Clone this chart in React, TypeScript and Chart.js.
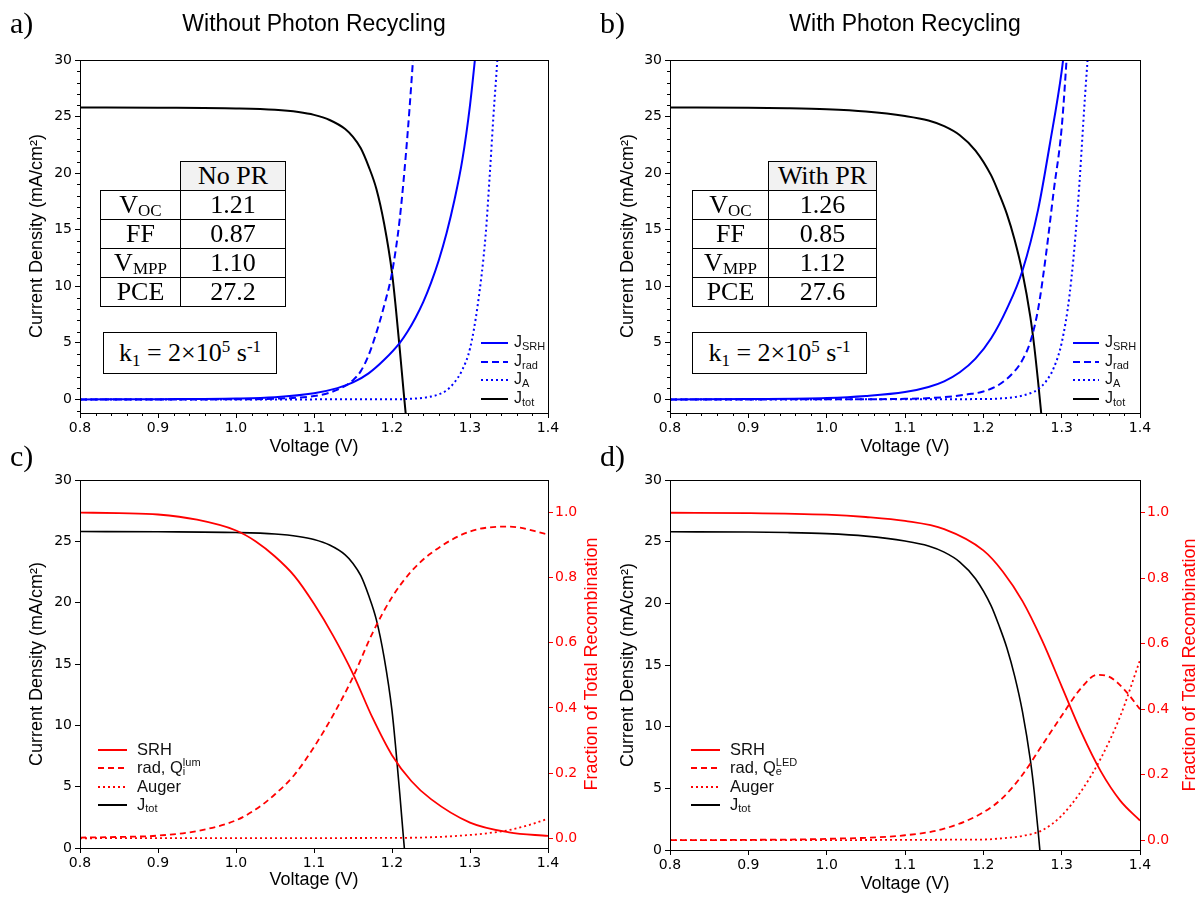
import React, { useEffect, useRef } from 'react';
import { Chart, registerables } from 'chart.js';
Chart.register(...registerables);

// ---------------- data ----------------
// No photon recycling: total current (panels a & c)
const V_TOT_NOPR = [0.80, 0.90, 1.00, 1.05, 1.08, 1.10, 1.12, 1.14, 1.15, 1.16, 1.17, 1.18, 1.19, 1.20, 1.205, 1.21, 1.215, 1.22];
const J_TOT_NOPR = [25.8, 25.78, 25.72, 25.6, 25.4, 25.15, 24.7, 23.9, 23.2, 22.2, 20.6, 18.6, 15.5, 11.2, 8.0, 4.4, 0.6, -3.0];
// With photon recycling: total current (panels b & d)
const V_TOT_PR = [0.80, 0.90, 0.95, 1.00, 1.05, 1.10, 1.13, 1.15, 1.17, 1.19, 1.21, 1.22, 1.23, 1.24, 1.25, 1.26, 1.265, 1.27, 1.275];
const J_TOT_PR = [25.8, 25.78, 25.74, 25.65, 25.45, 25.05, 24.65, 24.15, 23.35, 22.0, 19.8, 18.2, 16.4, 14.1, 11.2, 7.3, 4.7, 1.5, -2.0];

// panel a components
const V_SRH_A = [0.80, 0.90, 1.00, 1.05, 1.10, 1.13, 1.15, 1.17, 1.19, 1.21, 1.22, 1.23, 1.24, 1.25, 1.26, 1.27, 1.28, 1.29, 1.30, 1.31];
const J_SRH_A = [0.0, 0.02, 0.08, 0.2, 0.55, 1.0, 1.5, 2.3, 3.5, 5.0, 6.0, 7.2, 8.6, 10.3, 12.3, 14.7, 17.6, 21.1, 26.0, 32.5];
const V_RAD_A = [0.80, 0.90, 1.00, 1.05, 1.10, 1.12, 1.14, 1.15, 1.16, 1.17, 1.18, 1.19, 1.20, 1.21, 1.22, 1.23];
const J_RAD_A = [0.0, 0.0, 0.01, 0.06, 0.3, 0.6, 1.2, 1.7, 2.5, 3.9, 5.9, 8.3, 11.2, 16.0, 23.5, 33.0];
const V_AUG_A = [0.80, 1.20, 1.22, 1.24, 1.25, 1.26, 1.27, 1.28, 1.29, 1.30, 1.31, 1.32, 1.325, 1.33, 1.335, 1.34];
const J_AUG_A = [0.0, 0.01, 0.04, 0.14, 0.25, 0.45, 0.8, 1.5, 2.6, 4.5, 8.4, 14.5, 19.5, 25.0, 30.0, 36.0];

// panel b components
const V_SRH_B = [0.80, 0.90, 1.00, 1.05, 1.10, 1.13, 1.15, 1.17, 1.19, 1.21, 1.23, 1.25, 1.27, 1.285, 1.30, 1.31];
const J_SRH_B = [0.0, 0.03, 0.12, 0.3, 0.65, 1.1, 1.6, 2.4, 3.6, 5.4, 8.0, 11.4, 16.8, 22.6, 29.0, 35.0];
const V_RAD_B = [0.80, 1.00, 1.10, 1.15, 1.18, 1.20, 1.22, 1.24, 1.25, 1.26, 1.27, 1.28, 1.29, 1.30, 1.31];
const J_RAD_B = [0.0, 0.01, 0.05, 0.2, 0.45, 0.7, 1.3, 2.5, 3.5, 5.1, 8.0, 12.8, 18.5, 24.0, 34.0];
const V_AUG_B = [0.80, 1.20, 1.22, 1.24, 1.26, 1.27, 1.28, 1.29, 1.30, 1.31, 1.32, 1.33, 1.335, 1.34];
const J_AUG_B = [0.0, 0.03, 0.08, 0.2, 0.55, 0.9, 1.6, 2.8, 5.0, 9.2, 16.5, 27.0, 32.0, 38.0];

// panel c fractions
const V_FRAC_C = [0.80, 0.85, 0.90, 0.95, 1.00, 1.025, 1.05, 1.075, 1.10, 1.125, 1.15, 1.175, 1.20, 1.225, 1.25, 1.30, 1.35, 1.40];
const F_SRH_C = [1.0, 0.998, 0.994, 0.978, 0.945, 0.912, 0.865, 0.805, 0.72, 0.62, 0.505, 0.37, 0.255, 0.175, 0.12, 0.048, 0.018, 0.007];
const F_RAD_C = [0.002, 0.004, 0.008, 0.022, 0.055, 0.088, 0.135, 0.195, 0.28, 0.38, 0.495, 0.63, 0.74, 0.82, 0.875, 0.942, 0.957, 0.933];
const V_AUG_C = [0.80, 1.20, 1.25, 1.30, 1.325, 1.35, 1.375, 1.40];
const F_AUG_C = [0.0, 0.001, 0.003, 0.01, 0.016, 0.025, 0.04, 0.06];

// panel d fractions
const V_SRH_D = [0.80, 0.90, 1.00, 1.05, 1.10, 1.15, 1.20, 1.225, 1.25, 1.275, 1.30, 1.325, 1.35, 1.375, 1.40];
const F_SRH_D = [1.0, 0.999, 0.994, 0.987, 0.975, 0.95, 0.885, 0.82, 0.73, 0.61, 0.47, 0.33, 0.21, 0.12, 0.06];
const V_RAD_D = [0.80, 0.90, 1.00, 1.10, 1.15, 1.20, 1.225, 1.25, 1.275, 1.30, 1.325, 1.345, 1.36, 1.38, 1.40];
const F_RAD_D = [0.0, 0.001, 0.004, 0.015, 0.035, 0.085, 0.13, 0.2, 0.29, 0.38, 0.465, 0.505, 0.5, 0.46, 0.4];
const V_AUG_D = [0.80, 1.20, 1.225, 1.25, 1.275, 1.30, 1.325, 1.35, 1.375, 1.40];
const F_AUG_D = [0.0, 0.002, 0.006, 0.013, 0.03, 0.075, 0.15, 0.25, 0.38, 0.55];

// ticks
const X_TICKS = [0.8, 0.9, 1.0, 1.1, 1.2, 1.3, 1.4];
const J_TICKS = [0, 5, 10, 15, 20, 25, 30];
const F_TICKS = [0.0, 0.2, 0.4, 0.6, 0.8, 1.0];

// tables
const TABLE_HEAD_A = 'No PR';
const TABLE_HEAD_B = 'With PR';
const TABLE_LABELS = [['V', 'OC'], ['FF', ''], ['V', 'MPP'], ['PCE', '']];
const TABLE_VALUES_A = ['1.21', '0.87', '1.10', '27.2'];
const TABLE_VALUES_B = ['1.26', '0.85', '1.12', '27.6'];

// ---------------- helpers ----------------
const BLUE = '#0000ff';
const RED = '#ff0000';
const SANS = '"Liberation Sans", Arial, sans-serif';
const SERIF = '"Liberation Serif", "Times New Roman", serif';
const TICKF = '"DejaVu Sans", sans-serif';

type Part = { t: string; size: number; dy?: number; stack?: boolean };

function richWidth(ctx: CanvasRenderingContext2D, parts: Part[], fam: string) {
  let w = 0, ps = 0, pw = 0;
  for (const p of parts) {
    ctx.font = `${p.size}px ${fam}`;
    const m = ctx.measureText(p.t).width;
    if (p.stack) { pw = Math.max(pw, m); w = ps + pw; }
    else { ps = w; pw = m; w += m; }
  }
  return w;
}

function drawRich(ctx: CanvasRenderingContext2D, parts: Part[], x: number, y: number, fam: string, color: string, align: 'left' | 'center') {
  const total = richWidth(ctx, parts, fam);
  let cx = align === 'center' ? x - total / 2 : x;
  let ps = cx, pw = 0;
  ctx.fillStyle = color;
  ctx.textBaseline = 'middle';
  ctx.textAlign = 'left';
  for (const p of parts) {
    ctx.font = `${p.size}px ${fam}`;
    const m = ctx.measureText(p.t).width;
    if (p.stack) {
      ctx.fillText(p.t, ps, y + (p.dy || 0));
      pw = Math.max(pw, m);
      cx = ps + pw;
    } else {
      ps = cx; pw = m;
      ctx.fillText(p.t, cx, y + (p.dy || 0));
      cx += m;
    }
  }
}

function drawRotated(ctx: CanvasRenderingContext2D, text: string, x: number, y: number, font: string, color: string) {
  ctx.save();
  ctx.translate(x, y);
  ctx.rotate(-Math.PI / 2);
  ctx.font = font;
  ctx.fillStyle = color;
  ctx.textAlign = 'center';
  ctx.textBaseline = 'middle';
  ctx.fillText(text, 0, 0);
  ctx.restore();
}

type LegendItem = { parts: Part[]; color: string; dash: number[]; lw: number };
type Series = { v: number[]; j: number[]; color: string; dash: number[]; lw: number; axis?: string };

type PanelCfg = {
  key: string;
  left: number; top: number; w: number; h: number;
  pad: { left: number; right: number; top: number; bottom: number };
  yMin: number; yMax: number;
  right: boolean;
  minor: boolean;
  series: Series[];
  letter: { t: string; x: number; y: number };
  title?: { t: string; x: number; y: number };
  yTitle: { x: number; y: number };
  y2Title?: { x: number; y: number };
  xTitle: { x: number; y: number };
  legend: { x0: number; x1: number; tx: number; ys: number[]; size: number; items: LegendItem[] };
};

const AX_FONT = `18px ${SANS}`;

function buildChart(canvas: HTMLCanvasElement, cfg: PanelCfg) {
  const datasets = cfg.series.map((s) => ({
    data: s.v.map((x, i) => ({ x, y: s.j[i] })),
    borderColor: s.color,
    borderWidth: s.lw,
    borderDash: s.dash,
    pointRadius: 0,
    fill: false,
    cubicInterpolationMode: 'monotone' as const,
    yAxisID: s.axis || 'y',
  }));

  const tickFont = { family: TICKF, size: 14 };
  const scales: any = {
    x: {
      type: 'linear', min: 0.8, max: 1.4,
      afterBuildTicks: (s: any) => { s.ticks = X_TICKS.map((v) => ({ value: v })); },
      afterFit: (s: any) => { s.height = 30; },
      grid: { display: true, drawOnChartArea: false, tickLength: 5, color: '#000', tickColor: '#000' },
      border: { display: false },
      ticks: { font: tickFont, color: '#000', padding: 2, maxRotation: 0, autoSkip: false, callback: (v: any) => Number(v).toFixed(1) },
    },
    y: {
      type: 'linear', min: cfg.yMin, max: 30,
      afterBuildTicks: (s: any) => { s.ticks = J_TICKS.map((v) => ({ value: v })); },
      afterFit: (s: any) => { s.width = 45; },
      grid: { display: true, drawOnChartArea: false, tickLength: 5, color: '#000', tickColor: '#000' },
      border: { display: false },
      ticks: { font: tickFont, color: '#000', padding: 3, autoSkip: false, callback: (v: any) => String(Math.round(Number(v))) },
    },
  };
  if (cfg.right) {
    scales.y2 = {
      type: 'linear', position: 'right', min: -0.03, max: 1.10,
      afterBuildTicks: (s: any) => { s.ticks = F_TICKS.map((v) => ({ value: v })); },
      afterFit: (s: any) => { s.width = 40; },
      grid: { display: true, drawOnChartArea: false, tickLength: 5, color: RED, tickColor: RED },
      border: { display: false },
      ticks: { font: tickFont, color: RED, padding: 2, autoSkip: false, callback: (v: any) => Number(v).toFixed(1) },
    };
  }

  const decor = {
    id: 'decor' + cfg.key,
    afterDraw(chart: any) {
      const ctx: CanvasRenderingContext2D = chart.ctx;
      const a = chart.chartArea;
      ctx.save();
      // minor ticks
      if (cfg.minor) {
        ctx.strokeStyle = '#000';
        ctx.lineWidth = 1;
        const xs = chart.scales.x;
        for (let k = 80; k <= 140; k += 2) {
          if (k % 10 === 0) continue;
          const px = Math.round(xs.getPixelForValue(k / 100)) + 0.5;
          ctx.beginPath(); ctx.moveTo(px, a.bottom); ctx.lineTo(px, a.bottom + 3); ctx.stroke();
        }
        const ys = chart.scales.y;
        for (let k = -1; k < 30; k++) {
          if (k % 5 === 0) continue;
          const py = Math.round(ys.getPixelForValue(k)) + 0.5;
          ctx.beginPath(); ctx.moveTo(a.left, py); ctx.lineTo(a.left - 3, py); ctx.stroke();
        }
      }
      // frame
      ctx.strokeStyle = '#000';
      ctx.lineWidth = 1;
      ctx.setLineDash([]);
      ctx.strokeRect(Math.round(a.left) + 0.5, Math.round(a.top) + 0.5, Math.round(a.right - a.left), Math.round(a.bottom - a.top));
      // legend
      const lg = cfg.legend;
      lg.items.forEach((it, i) => {
        const y = lg.ys[i];
        ctx.strokeStyle = it.color;
        ctx.lineWidth = it.lw;
        ctx.setLineDash(it.dash);
        ctx.beginPath(); ctx.moveTo(lg.x0, y); ctx.lineTo(lg.x1, y); ctx.stroke();
        ctx.setLineDash([]);
        drawRich(ctx, it.parts, lg.tx, y, SANS, '#111', 'left');
      });
      // titles
      ctx.font = `30px ${SERIF}`;
      ctx.fillStyle = '#000';
      ctx.textAlign = 'left';
      ctx.textBaseline = 'middle';
      ctx.fillText(cfg.letter.t, cfg.letter.x, cfg.letter.y);
      if (cfg.title) {
        ctx.font = `23px ${SANS}`;
        ctx.textAlign = 'center';
        ctx.fillText(cfg.title.t, cfg.title.x, cfg.title.y);
      }
      drawRotated(ctx, 'Current Density (mA/cm\u00b2)', cfg.yTitle.x, cfg.yTitle.y, AX_FONT, '#000');
      if (cfg.y2Title) drawRotated(ctx, 'Fraction of Total Recombination', cfg.y2Title.x, cfg.y2Title.y, AX_FONT, RED);
      ctx.font = AX_FONT;
      ctx.fillStyle = '#000';
      ctx.textAlign = 'center';
      ctx.textBaseline = 'middle';
      ctx.fillText('Voltage (V)', cfg.xTitle.x, cfg.xTitle.y);
      ctx.restore();
    },
  };

  return new Chart(canvas, {
    type: 'line',
    data: { datasets },
    options: {
      animation: false,
      responsive: false,
      devicePixelRatio: 1,
      layout: { padding: cfg.pad },
      plugins: { legend: { display: false }, tooltip: { enabled: false }, title: { display: false } },
      scales,
    } as any,
    plugins: [decor],
  });
}

function Panel({ cfg }: { cfg: PanelCfg }) {
  const ref = useRef<HTMLCanvasElement>(null);
  useEffect(() => {
    const chart = buildChart(ref.current!, cfg);
    return () => chart.destroy();
  }, []);
  return (
    <canvas ref={ref} width={cfg.w} height={cfg.h}
      style={{ position: 'absolute', left: cfg.left, top: cfg.top, width: cfg.w, height: cfg.h }} />
  );
}

const jLeg = (sub: string): Part[] => [{ t: 'J', size: 16 }, { t: sub, size: 11, dy: 4 }];
const blueLegend = (): LegendItem[] => [
  { parts: jLeg('SRH'), color: BLUE, dash: [], lw: 2 },
  { parts: jLeg('rad'), color: BLUE, dash: [7, 4], lw: 2 },
  { parts: jLeg('A'), color: BLUE, dash: [2, 3], lw: 2 },
  { parts: jLeg('tot'), color: '#000', dash: [], lw: 2 },
];
const redLegend = (sub: string, sup: string): LegendItem[] => [
  { parts: [{ t: 'SRH', size: 16.5 }], color: RED, dash: [], lw: 2 },
  { parts: [{ t: 'rad, Q', size: 16.5 }, { t: sub, size: 11, dy: 4 }, { t: sup, size: 11, dy: -5, stack: true }], color: RED, dash: [6, 4], lw: 2 },
  { parts: [{ t: 'Auger', size: 16.5 }], color: RED, dash: [2, 3], lw: 2 },
  { parts: [{ t: 'J', size: 16.5 }, { t: 'tot', size: 11, dy: 4 }], color: '#000', dash: [], lw: 2 },
];

const PANEL_A: PanelCfg = {
  key: 'a', left: 0, top: 0, w: 600, h: 460,
  pad: { left: 35, right: 52, top: 60, bottom: 17 },
  yMin: -1.2, yMax: 30, right: false, minor: true,
  series: [
    { v: V_SRH_A, j: J_SRH_A, color: BLUE, dash: [], lw: 2 },
    { v: V_RAD_A, j: J_RAD_A, color: BLUE, dash: [7, 4], lw: 2 },
    { v: V_AUG_A, j: J_AUG_A, color: BLUE, dash: [2, 3], lw: 2 },
    { v: V_TOT_NOPR, j: J_TOT_NOPR, color: '#000', dash: [], lw: 2 },
  ],
  letter: { t: 'a)', x: 10, y: 25 },
  title: { t: 'Without Photon Recycling', x: 314, y: 25 },
  yTitle: { x: 37, y: 236 },
  xTitle: { x: 314, y: 447 },
  legend: { x0: 481, x1: 508, tx: 514, ys: [343, 362, 380, 399], size: 16, items: blueLegend() },
};

const PANEL_B: PanelCfg = {
  key: 'b', left: 600, top: 0, w: 602, h: 460,
  pad: { left: 25, right: 62, top: 60, bottom: 17 },
  yMin: -1.2, yMax: 30, right: false, minor: true,
  series: [
    { v: V_SRH_B, j: J_SRH_B, color: BLUE, dash: [], lw: 2 },
    { v: V_RAD_B, j: J_RAD_B, color: BLUE, dash: [7, 4], lw: 2 },
    { v: V_AUG_B, j: J_AUG_B, color: BLUE, dash: [2, 3], lw: 2 },
    { v: V_TOT_PR, j: J_TOT_PR, color: '#000', dash: [], lw: 2 },
  ],
  letter: { t: 'b)', x: 0, y: 25 },
  title: { t: 'With Photon Recycling', x: 305, y: 25 },
  yTitle: { x: 28, y: 236 },
  xTitle: { x: 305, y: 447 },
  legend: { x0: 473, x1: 499, tx: 505, ys: [343, 362, 380, 399], size: 16, items: blueLegend() },
};

const PANEL_C: PanelCfg = {
  key: 'c', left: 0, top: 440, w: 600, h: 459,
  pad: { left: 35, right: 12, top: 40, bottom: 21 },
  yMin: 0, yMax: 30, right: true, minor: false,
  series: [
    { v: V_FRAC_C, j: F_SRH_C, color: RED, dash: [], lw: 1.8, axis: 'y2' },
    { v: V_FRAC_C, j: F_RAD_C, color: RED, dash: [6, 4], lw: 1.8, axis: 'y2' },
    { v: V_AUG_C, j: F_AUG_C, color: RED, dash: [2, 3], lw: 1.8, axis: 'y2' },
    { v: V_TOT_NOPR, j: J_TOT_NOPR, color: '#000', dash: [], lw: 1.6 },
  ],
  letter: { t: 'c)', x: 10, y: 18 },
  yTitle: { x: 37, y: 224 },
  y2Title: { x: 592, y: 224 },
  xTitle: { x: 314, y: 440 },
  legend: { x0: 98, x1: 127, tx: 137, ys: [310, 328, 347, 365], size: 16.5, items: redLegend('i', 'lum') },
};

const PANEL_D: PanelCfg = {
  key: 'd', left: 600, top: 440, w: 602, h: 459,
  pad: { left: 25, right: 22, top: 40, bottom: 19 },
  yMin: 0, yMax: 30, right: true, minor: false,
  series: [
    { v: V_SRH_D, j: F_SRH_D, color: RED, dash: [], lw: 1.8, axis: 'y2' },
    { v: V_RAD_D, j: F_RAD_D, color: RED, dash: [6, 4], lw: 1.8, axis: 'y2' },
    { v: V_AUG_D, j: F_AUG_D, color: RED, dash: [2, 3], lw: 1.8, axis: 'y2' },
    { v: V_TOT_PR, j: J_TOT_PR, color: '#000', dash: [], lw: 1.6 },
  ],
  letter: { t: 'd)', x: 0, y: 18 },
  yTitle: { x: 28, y: 225 },
  y2Title: { x: 590, y: 225 },
  xTitle: { x: 305, y: 444 },
  legend: { x0: 91, x1: 120, tx: 130, ys: [310, 328, 347, 365], size: 16.5, items: redLegend('e', 'LED') },
};

// ---------------- HTML tables ----------------
const ROW_Y = [161, 190, 219, 248, 277, 306];

function Cell({ x, y, w, h, bg, children }: any) {
  return (
    <div style={{
      position: 'absolute', left: x, top: y, width: w + 1, height: h + 1, boxSizing: 'border-box',
      border: '1px solid #000', background: bg || '#fff', display: 'flex', alignItems: 'center', justifyContent: 'center',
      fontFamily: SERIF, fontSize: 26, lineHeight: 1, color: '#000', whiteSpace: 'nowrap',
    }}>{children}</div>
  );
}

function Table({ cols, head, values }: { cols: number[]; head: string; values: string[] }) {
  const cells: any[] = [];
  cells.push(<Cell key="h" x={cols[1]} y={ROW_Y[0]} w={cols[2] - cols[1]} h={ROW_Y[1] - ROW_Y[0]} bg="#f2f2f2">{head}</Cell>);
  TABLE_LABELS.forEach((lab, i) => {
    const y = ROW_Y[i + 1], h = ROW_Y[i + 2] - ROW_Y[i + 1];
    cells.push(
      <Cell key={'l' + i} x={cols[0]} y={y} w={cols[1] - cols[0]} h={h}>
        {lab[0]}{lab[1] ? <span style={{ fontSize: 17, position: 'relative', top: 5 }}>{lab[1]}</span> : null}
      </Cell>
    );
    cells.push(<Cell key={'v' + i} x={cols[1]} y={y} w={cols[2] - cols[1]} h={h}>{values[i]}</Cell>);
  });
  return <>{cells}</>;
}

function KBox({ x, w }: { x: number; w: number }) {
  return (
    <Cell x={x} y={332} w={w} h={41}>
      <span>k<span style={{ fontSize: 17, position: 'relative', top: 5 }}>1</span> = 2×10<span style={{ fontSize: 17, position: 'relative', top: -9 }}>5</span> s<span style={{ fontSize: 17, position: 'relative', top: -9 }}>-1</span></span>
    </Cell>
  );
}

export default function App() {
  return (
    <div style={{ position: 'absolute', left: 0, top: 0, width: 1202, height: 899, background: '#fff', overflow: 'hidden' }}>
      <Panel cfg={PANEL_A} />
      <Panel cfg={PANEL_B} />
      <Panel cfg={PANEL_C} />
      <Panel cfg={PANEL_D} />
      <Table cols={[100, 180, 285]} head={TABLE_HEAD_A} values={TABLE_VALUES_A} />
      <KBox x={103} w={173} />
      <Table cols={[692, 768, 876]} head={TABLE_HEAD_B} values={TABLE_VALUES_B} />
      <KBox x={692} w={174} />
    </div>
  );
}
